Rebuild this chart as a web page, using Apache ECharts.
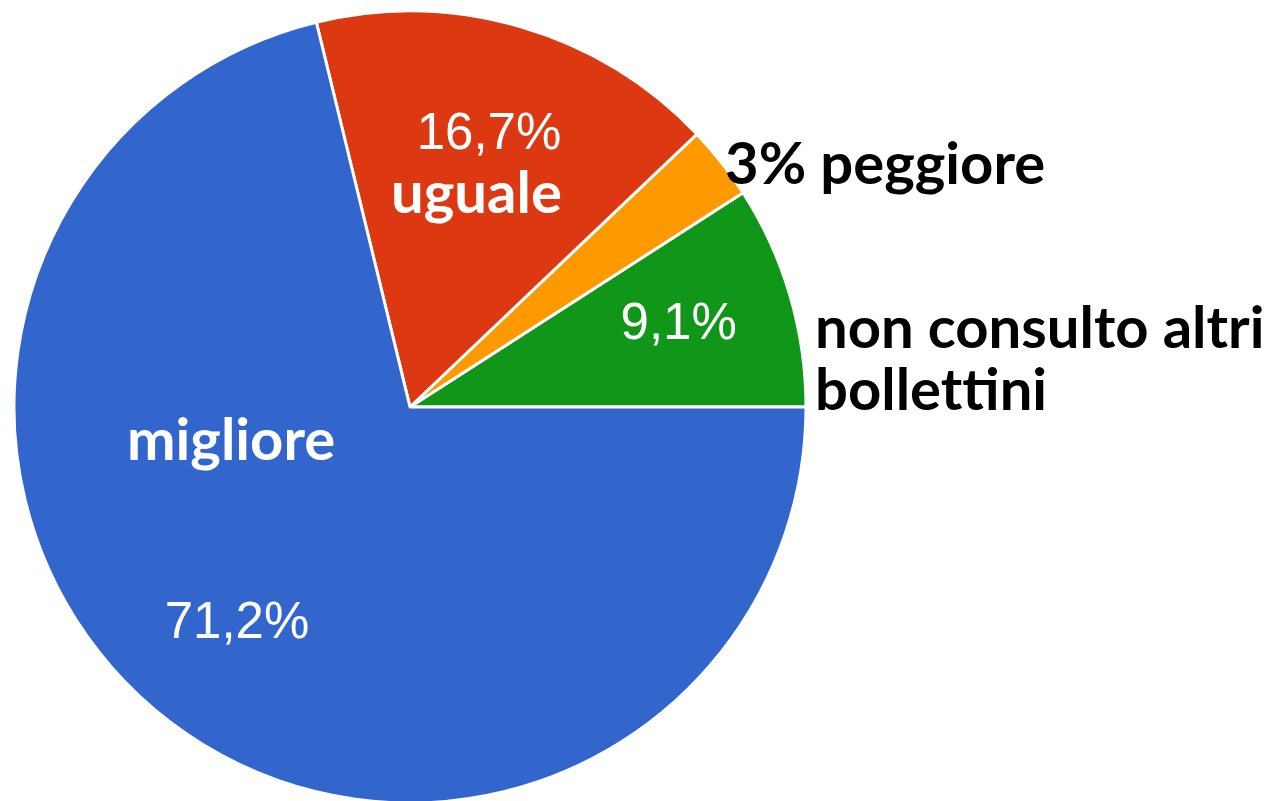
<!DOCTYPE html>
<html>
<head>
<meta charset="utf-8">
<script src="https://cdn.jsdelivr.net/npm/echarts@6/dist/echarts.min.js"></script>
<style>
  html, body { margin: 0; padding: 0; background: #fff; }
  #chart { width: 1272px; height: 801px; }
</style>
</head>
<body>
<div id="chart"></div>
<script>
// slices, counter-clockwise from 3 o'clock
var categories = ["non consulto altri bollettini", "peggiore", "uguale", "migliore"];
var values = [9.1, 3, 16.7, 71.2];
var colors = ["#109618", "#ff9900", "#dc3912", "#3366cc"];
// which slices get the percentage printed inside
var showInside = [true, false, true, true];

var myChart = echarts.init(document.getElementById("chart"));

function pct(v) {
  return String(v).replace(".", ",") + "%";
}

var pieData = categories.map(function (c, i) {
  return { name: c, value: values[i], itemStyle: { color: colors[i] } };
});

var labelData = categories.map(function (c, i) {
  return { name: c, value: values[i], label: { show: showInside[i] } };
});

var wordFont = "bold 58px Lato";

var option = {
  animation: false,
  series: [
    {
      type: "pie",
      center: [410, 407],
      radius: [0, 396],
      startAngle: 0,
      clockwise: false,
      silent: true,
      label: { show: false },
      labelLine: { show: false },
      itemStyle: { borderColor: "#fff", borderWidth: 3 },
      data: pieData,
    },
    {
      // transparent ring only used to place the percentages at ~70% of the radius
      type: "pie",
      center: [410, 404],
      radius: [158, 396],
      startAngle: 0,
      clockwise: false,
      silent: true,
      itemStyle: { color: "rgba(0,0,0,0)" },
      labelLine: { show: false },
      label: {
        position: "inside",
        color: "#fff",
        fontFamily: "Liberation Sans",
        fontSize: 51,
        formatter: function (p) {
          return pct(p.value);
        },
      },
      data: labelData,
    },
  ],
  graphic: [
    {
      type: "text",
      z: 100,
      left: 391,
      top: 165,
      style: { text: categories[2], fill: "#fff", font: wordFont },
    },
    {
      type: "text",
      z: 100,
      left: 127,
      top: 412,
      style: { text: categories[3], fill: "#fff", font: wordFont },
    },
    {
      type: "text",
      z: 100,
      left: 725,
      top: 136,
      style: { text: pct(values[1]) + " " + categories[1], fill: "#000", font: wordFont },
    },
    {
      type: "text",
      z: 100,
      left: 815,
      top: 300,
      style: {
        // "bollet" and "tini" drawn as two runs so Lato does not join the "tt"
        text: "{w|non consulto altri}\n{w|bollet}{w|tini}",
        fill: "#000",
        font: wordFont,
        rich: {
          w: { font: wordFont, fill: "#000", lineHeight: 62 },
        },
      },
    },
  ],
};

myChart.setOption(option);
window.addEventListener("resize", function () {
  myChart.resize();
});
</script>
</body>
</html>
